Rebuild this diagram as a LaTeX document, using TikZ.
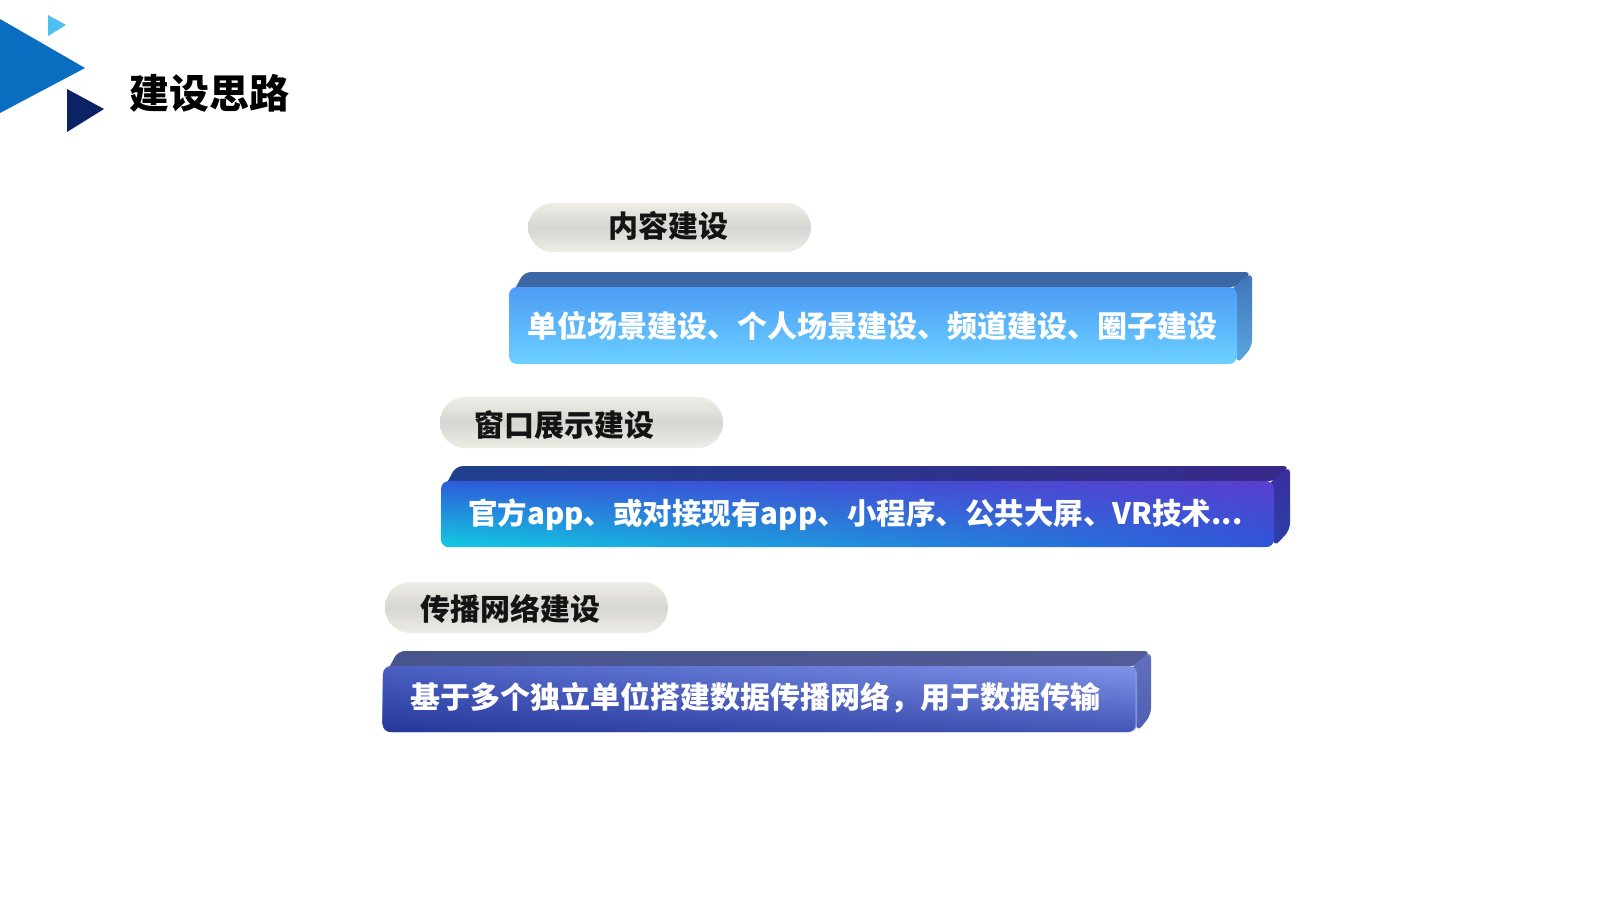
\documentclass[tikz,border=0pt]{standalone}
\usepackage{fontspec}
\usetikzlibrary{fadings}
\newfontfamily\cjk{Noto Sans CJK SC}
\definecolor{triL}{HTML}{4CC0F0}
\definecolor{triM}{HTML}{0A6EC0}
\definecolor{triD}{HTML}{0B2364}
\definecolor{pillL}{HTML}{EEEDE6}
\definecolor{pillD}{HTML}{D6D6D2}
\definecolor{aTop}{HTML}{3B68A5}
\definecolor{aSideT}{HTML}{3F74B8}
\definecolor{aSideB}{HTML}{5AA7E0}
\definecolor{aFrT}{HTML}{4D9CF6}
\definecolor{aFrB}{HTML}{6BD0FF}
\definecolor{bTopL}{HTML}{1F418E}
\definecolor{bTopR}{HTML}{38298A}
\definecolor{bSideT}{HTML}{3A2E9E}
\definecolor{bSideB}{HTML}{2D3FA8}
\definecolor{bUpL}{HTML}{2D5CDA}
\definecolor{bUpM}{HTML}{2F56DE}
\definecolor{bUpR}{HTML}{5A3FCF}
\definecolor{bLoL}{HTML}{12CCE2}
\definecolor{bLoR}{HTML}{2D56D8}
\definecolor{cTopL}{HTML}{48548E}
\definecolor{cTopR}{HTML}{525C98}
\definecolor{cSideT}{HTML}{6470C0}
\definecolor{cSideB}{HTML}{4E5EB0}
\definecolor{cUpL}{HTML}{4B60C4}
\definecolor{cUpR}{HTML}{8094E8}
\definecolor{cLoL}{HTML}{27389A}
\definecolor{cLoR}{HTML}{4556B8}
\tikzfading[name=fadeup, bottom color=transparent!0, top color=transparent!100]
\begin{document}
\begin{tikzpicture}[x=1pt,y=-1pt,
  pill/.style={rounded corners=25pt, top color=pillL, bottom color=pillL, middle color=pillD},
  pilltext/.style={font=\cjk\bfseries\fontsize{30}{36}\selectfont, text=black!92, inner sep=0pt},
  bartext/.style={font=\cjk\bfseries\fontsize{30}{36}\selectfont, text=white, inner sep=0pt, anchor=west},
  titletext/.style={font=\cjk\bfseries\fontsize{40}{48}\selectfont, text=black, inner sep=0pt},
  face/.style={rounded corners=7pt},
  front/.style={rounded corners=8pt},
  lowglow/.style={rounded corners=8pt, path fading=fadeup, fit fading=true},
]
\useasboundingbox (0,0) rectangle (1600,900);
\fill[white] (0,0) rectangle (1600,900);
% corner triangles
\fill[triL] (48,15) -- (66,25) -- (48,36) -- cycle;
\fill[triM] (0,19) -- (85,68) -- (0,113) -- cycle;
\fill[triD] (67,89) -- (104,109) -- (67,132) -- cycle;
\node[titletext] (title) at (209,93) {建设思路};

% pill 1
\path[pill] (528,203) rectangle (811,252);
\node[pilltext] (p1) at (668,226) {内容建设};
% bar 1
\path[face, fill=aTop] (509,300) -- (524,272) -- (1252,272) -- (1237,287) -- cycle;
\path[face, top color=aSideT, bottom color=aSideB] (1230,290) -- (1252,272) -- (1252,347) -- (1237,364) -- cycle;
\path[front, top color=aFrT, bottom color=aFrB] (509,287) rectangle (1237,364);
\node[bartext] (b1) at (527,326) {单位场景建设、个人场景建设、频道建设、圈子建设};

% pill 2
\path[pill] (440,397) rectangle (723,448);
\node[pilltext] (p2) at (564,425) {窗口展示建设};
% bar 2
\path[face, left color=bTopL, right color=bTopR] (441,494) -- (456,466) -- (1290,466) -- (1275,481) -- cycle;
\path[face, top color=bSideT, bottom color=bSideB] (1268,484) -- (1290,466) -- (1290,530) -- (1274,547) -- cycle;
\path[front, left color=bUpL, middle color=bUpM, right color=bUpR] (441,481) rectangle (1274,547);
\path[lowglow, left color=bLoL, right color=bLoR] (441,481) rectangle (1274,547);
\node[bartext, font=\cjk\bfseries\fontsize{29.5}{36}\selectfont] (b2) at (468,515) {官方app、或对接现有app、小程序、公共大屏、VR技术...};

% pill 3
\path[pill] (385,582) rectangle (668,633);
\node[pilltext] (p3) at (510.5,609) {传播网络建设};
% bar 3
\path[face, left color=cTopL, right color=cTopR] (383,679) -- (398,651) -- (1151,651) -- (1137,666) -- cycle;
\path[face, top color=cSideT, bottom color=cSideB] (1130,669) -- (1151,651) -- (1151,715) -- (1137,732) -- cycle;
\path[front, left color=cUpL, right color=cUpR] (383,666) rectangle (1137,732);
\path[lowglow, left color=cLoL, right color=cLoR] (383,666) rectangle (1137,732);
\node[bartext] (b3) at (410,698) {基于多个独立单位搭建数据传播网络，用于数据传输};
\end{tikzpicture}
\end{document}
